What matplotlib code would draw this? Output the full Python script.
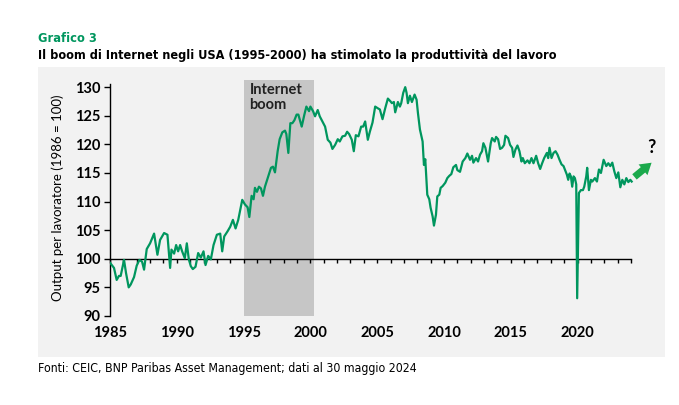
import numpy as np
import matplotlib
matplotlib.use('Agg')
from matplotlib import pyplot as plt
from matplotlib.patches import Rectangle

# dati (anno decimale, output per lavoratore 1986=100)
anni = [1985.0, 1985.07, 1985.3, 1985.5, 1985.67, 1985.8, 1986.05, 1986.2, 1986.4, 1986.55,
        1986.8, 1987.0, 1987.2, 1987.4, 1987.55, 1987.75, 1988.0, 1988.3, 1988.55, 1988.75,
        1989.05, 1989.3, 1989.5, 1989.6, 1989.8, 1989.95, 1990.1, 1990.25, 1990.4, 1990.6,
        1990.75, 1990.9, 1991.05, 1991.2, 1991.4, 1991.6, 1991.8, 1992.0, 1992.15, 1992.35,
        1992.55, 1992.75, 1993.0, 1993.25, 1993.4, 1993.55, 1993.8, 1994.0, 1994.2, 1994.4,
        1994.6, 1994.7, 1994.9, 1995.1, 1995.3, 1995.43, 1995.6, 1995.75, 1995.85, 1996.0,
        1996.15, 1996.3, 1996.45, 1996.6, 1996.85, 1997.05, 1997.2, 1997.35, 1997.55, 1997.7,
        1997.9, 1998.1, 1998.2, 1998.35, 1998.5, 1998.65, 1998.8, 1998.97, 1999.1, 1999.35,
        1999.55, 1999.7, 1999.9, 2000.0, 2000.2, 2000.35, 2000.55, 2000.7, 2000.9, 2001.1,
        2001.3, 2001.5, 2001.65, 2001.85, 2002.05, 2002.2, 2002.4, 2002.6, 2002.75, 2002.9,
        2003.1, 2003.25, 2003.4, 2003.6, 2003.8, 2003.95, 2004.1, 2004.3, 2004.45, 2004.65,
        2004.85, 2005.05, 2005.2, 2005.4, 2005.6, 2005.8, 2006.0, 2006.1, 2006.25, 2006.35,
        2006.55, 2006.7, 2006.8, 2006.95, 2007.1, 2007.2, 2007.3, 2007.45, 2007.6, 2007.8,
        2007.95, 2008.05, 2008.2, 2008.4, 2008.5, 2008.6, 2008.75, 2008.9, 2009.0, 2009.15,
        2009.25, 2009.4, 2009.5, 2009.65, 2009.75, 2009.9, 2010.1, 2010.25, 2010.4, 2010.55,
        2010.7, 2010.9, 2011.0, 2011.2, 2011.4, 2011.6, 2011.75, 2011.95, 2012.1, 2012.2,
        2012.4, 2012.55, 2012.7, 2012.85, 2012.95, 2013.1, 2013.3, 2013.5, 2013.6, 2013.8,
        2013.9, 2014.05, 2014.2, 2014.35, 2014.5, 2014.6, 2014.8, 2014.95, 2015.1, 2015.2,
        2015.35, 2015.5, 2015.65, 2015.8, 2015.9, 2016.05, 2016.25, 2016.4, 2016.55, 2016.7,
        2016.9, 2017.05, 2017.2, 2017.35, 2017.5, 2017.7, 2017.8, 2017.9, 2018.05, 2018.2,
        2018.35, 2018.5, 2018.65, 2018.8, 2018.95, 2019.1, 2019.2, 2019.3, 2019.4, 2019.5,
        2019.6, 2019.7, 2019.8, 2019.9, 2019.97, 2020.1, 2020.25, 2020.4, 2020.5, 2020.65,
        2020.72, 2020.85, 2021.0, 2021.1, 2021.3, 2021.45, 2021.6, 2021.75, 2021.85, 2021.95,
        2022.15, 2022.3, 2022.45, 2022.6, 2022.75, 2022.9, 2023.05, 2023.2, 2023.35, 2023.5,
        2023.65, 2023.8, 2023.95, 2024.05]
output = [99.3, 99.1, 98.4, 96.3, 97.0, 97.0, 99.8, 97.5, 95.0, 95.5,
          96.8, 98.8, 99.8, 99.5, 98.1, 101.7, 102.7, 104.4, 100.7, 103.3,
          104.5, 104.2, 98.4, 101.6, 100.9, 102.4, 101.3, 102.4, 101.3, 100.1,
          102.7, 99.9, 98.7, 98.2, 98.6, 101.0, 100.2, 101.3, 98.9, 100.5,
          99.9, 102.4, 104.2, 104.4, 101.3, 103.9, 104.8, 105.6, 106.8, 105.3,
          106.8, 108.0, 110.3, 109.5, 109.0, 107.3, 111.0, 110.4, 112.4, 111.7,
          112.6, 112.3, 111.0, 112.6, 114.4, 115.9, 116.1, 115.1, 118.8, 120.9,
          122.1, 122.4, 121.8, 118.5, 123.7, 123.7, 124.2, 125.2, 125.2, 123.1,
          125.2, 126.6, 125.8, 126.6, 125.8, 124.9, 126.0, 124.9, 124.0, 123.1,
          120.8, 120.3, 119.2, 119.9, 120.9, 120.5, 121.4, 121.5, 122.2, 121.8,
          120.8, 118.8, 121.6, 121.4, 123.1, 123.1, 124.0, 120.8, 122.2, 123.8,
          126.6, 126.3, 126.1, 124.4, 126.3, 128.0, 127.5, 127.2, 127.4, 125.6,
          127.4, 126.6, 127.2, 129.0, 130.0, 129.0, 127.2, 128.5, 127.4, 128.7,
          127.8, 125.5, 122.6, 120.5, 116.4, 117.4, 111.2, 110.4, 108.9, 107.4,
          105.8, 107.7, 110.9, 111.2, 112.4, 112.7, 113.3, 114.1, 114.5, 114.8,
          116.0, 116.4, 115.5, 115.2, 117.0, 117.6, 118.4, 117.3, 118.0, 116.8,
          117.6, 117.0, 118.2, 118.8, 120.2, 119.4, 117.0, 120.2, 121.1, 120.5,
          121.3, 120.9, 119.2, 119.4, 119.9, 121.5, 121.1, 119.9, 119.4, 117.8,
          119.1, 119.8, 118.8, 117.0, 117.6, 116.7, 117.2, 116.7, 117.6, 116.7,
          118.0, 116.7, 115.7, 116.7, 117.6, 118.5, 117.6, 119.4, 117.6, 118.5,
          118.8, 118.2, 117.3, 116.5, 116.2, 115.3, 114.7, 113.8, 114.9, 114.4,
          112.6, 114.4, 114.1, 113.0, 93.1, 111.5, 112.0, 112.0, 112.6, 114.4,
          115.9, 112.0, 113.8, 113.5, 114.1, 113.5, 115.6, 115.0, 116.2, 117.3,
          116.2, 116.7, 116.2, 116.8, 115.3, 114.1, 115.1, 112.5, 113.8, 113.0,
          114.1, 113.4, 113.8, 113.5]

boom_inizio = 1995.0
boom_fine = 2000.3
freccia_da = (2024.1, 114.0)
freccia_a = (2025.7, 117.1)
anni_tick = [1985, 1990, 1995, 2000, 2005, 2010, 2015, 2020]
y_tick = [90, 95, 100, 105, 110, 115, 120, 125, 130]

verde = '#00965E'
verde_freccia = '#1BA94C'
font_titolo = ['DejaVu Sans', 'Liberation Sans']
font_assi = ['Lato', 'DejaVu Sans']

fig = plt.figure(figsize=(6.79, 4.05), dpi=100)
fig.patch.set_facecolor('white')

# riquadro grigio di sfondo
fig.patches.append(Rectangle((0.056, 0.1185), 0.923, 0.716, transform=fig.transFigure,
                             facecolor='#f2f2f2', edgecolor='none', zorder=-5))

fig.text(0.056, 0.906, 'Grafico 3', color=verde, fontsize=9.2, fontweight='bold',
         family=font_titolo, fontstretch='condensed', va='center')
fig.text(0.056, 0.862, "Il boom di Internet negli USA (1995-2000) ha stimolato la produttività del lavoro",
         color='black', fontsize=9.1, fontweight='bold', family=font_titolo,
         fontstretch='condensed', va='center')
fig.text(0.056, 0.091, 'Fonti: CEIC, BNP Paribas Asset Management; dati al 30 maggio 2024',
         color='black', fontsize=8.8, family=font_titolo, fontstretch='condensed', va='center')

ax = fig.add_axes([0.162, 0.2198, 0.8165, 0.582])
ax.set_zorder(2)
ax.patch.set_visible(False)
ax.set_xlim(1985, 2026.5)
ax.set_ylim(90, 131.2)

ax.axvspan(boom_inizio, boom_fine, color='#c6c6c6', lw=0, zorder=1)
ax.text(boom_inizio + 0.45, 130.8, 'Internet\nboom', fontsize=10.5, family=font_assi,
        fontweight='bold', va='top', ha='left', color='#222222', linespacing=1.1, zorder=3)

ax.plot(anni, output, color=verde, lw=1.6, zorder=4)

ax.annotate('', xy=freccia_a, xytext=freccia_da,
            arrowprops=dict(arrowstyle='simple,head_width=1.0,head_length=0.8,tail_width=0.5',
                            color=verde_freccia, lw=0), zorder=5)
ax.text(freccia_a[0] - 0.2, freccia_a[1] + 0.9, '?', fontsize=13, family=font_assi,
        fontweight='bold', ha='center', va='bottom', color='black')

for s in ['top', 'right']:
    ax.spines[s].set_visible(False)
ax.spines['left'].set_bounds(90, 130.5)
ax.spines['bottom'].set_position(('data', 100))
ax.spines['bottom'].set_bounds(1985, 2024)
ax.spines['left'].set_linewidth(1.0)
ax.spines['bottom'].set_linewidth(1.0)

ax.set_yticks(y_tick)
ax.set_yticklabels([str(v) for v in y_tick], fontsize=10.5, family=font_assi, fontweight='bold')
ax.tick_params(axis='y', length=4, width=1, pad=3)

ax.set_xticks(np.arange(1985, 2025, 1))
ax.tick_params(axis='x', length=3, width=1, direction='out', labelbottom=False)

# etichette anni in basso
sec = ax.secondary_xaxis(0)
sec.set_xticks(anni_tick)
sec.set_xticklabels([str(a) for a in anni_tick], fontsize=10.5, family=font_assi, fontweight='bold')
sec.tick_params(length=0, pad=7)
sec.spines['bottom'].set_visible(False)

ax.set_ylabel('Output per lavoratore (1986 = 100)', fontsize=9.5, family=font_assi)
ax.yaxis.set_label_coords(-0.083, 0.5)

fig.savefig('out.png', dpi=100)
